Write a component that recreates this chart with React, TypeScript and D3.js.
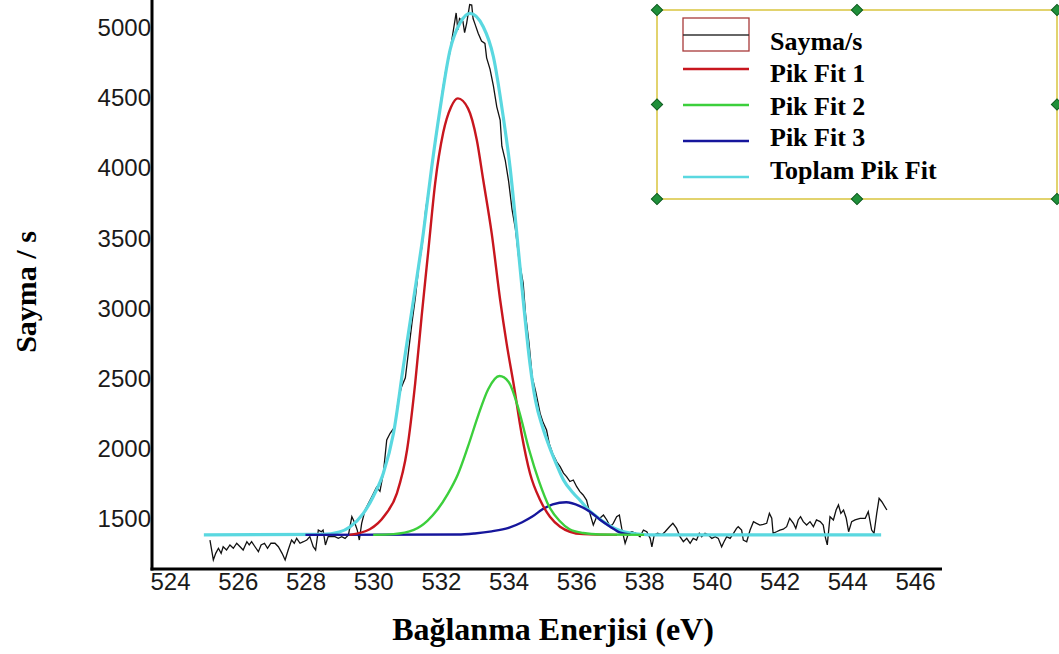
import React, { useEffect, useRef } from "react";
import * as d3 from "d3";

// ---------- data ----------
const xTicks = [524, 526, 528, 530, 532, 534, 536, 538, 540, 542, 544, 546];
const yTicks = [1500, 2000, 2500, 3000, 3500, 4000, 4500, 5000];

const rawEnergy = [
  525.18, 525.28, 525.35, 525.43, 525.51, 525.57, 525.67, 525.77, 525.87, 525.97,
  526.07, 526.16, 526.27, 526.34, 526.41, 526.51, 526.61, 526.69, 526.79, 526.88,
  526.98, 527.1, 527.2, 527.31, 527.4, 527.49, 527.59, 527.67, 527.74, 527.84,
  527.94, 528.04, 528.13, 528.23, 528.3, 528.38, 528.47, 528.52, 528.59, 528.67,
  528.77, 528.87, 528.97, 529.07, 529.17, 529.27, 529.37, 529.46, 529.53, 529.59,
  529.66, 529.76, 529.86, 529.96, 530.1, 530.2, 530.3, 530.4, 530.5, 530.64,
  530.74, 530.84, 530.95, 531.05, 531.15, 531.25, 531.35, 531.45, 531.55, 531.65,
  531.75, 531.85, 531.95, 532.05, 532.15, 532.25, 532.35, 532.45, 532.5, 532.55,
  532.65, 532.7, 532.76, 532.85, 532.91, 532.95, 533.0, 533.1, 533.2, 533.3,
  533.35, 533.45, 533.55, 533.65, 533.75, 533.8, 533.9, 534.0, 534.1, 534.2,
  534.3, 534.43, 534.5, 534.6, 534.7, 534.8, 534.93, 535.02, 535.12, 535.2,
  535.3, 535.42, 535.52, 535.62, 535.71, 535.81, 535.91, 536.01, 536.1, 536.2,
  536.3, 536.4, 536.5, 536.6, 536.7, 536.8, 536.9, 537.0, 537.09, 537.19,
  537.27, 537.34, 537.44, 537.54, 537.64, 537.76, 537.88, 537.98, 538.08, 538.18,
  538.23, 538.3, 538.4, 538.52, 538.62, 538.75, 538.85, 538.96, 539.06, 539.16,
  539.26, 539.36, 539.45, 539.55, 539.63, 539.7, 539.8, 539.9, 540.0, 540.1,
  540.19, 540.29, 540.36, 540.44, 540.54, 540.64, 540.73, 540.78, 540.88, 540.93,
  541.03, 541.13, 541.23, 541.32, 541.42, 541.52, 541.62, 541.7, 541.77, 541.81,
  541.91, 542.01, 542.11, 542.21, 542.3, 542.41, 542.48, 542.55, 542.62, 542.7,
  542.8, 542.9, 543.0, 543.09, 543.2, 543.29, 543.36, 543.41, 543.49, 543.59,
  543.67, 543.74, 543.81, 543.89, 543.97, 544.04, 544.13, 544.23, 544.38, 544.53,
  544.62, 544.72, 544.79, 544.87, 544.94, 545.02, 545.17,
];
const rawCounts = [
  1343, 1201, 1248, 1284, 1248, 1295, 1272, 1308, 1284, 1320,
  1295, 1272, 1331, 1308, 1331, 1295, 1260, 1308, 1320, 1284,
  1320, 1320, 1295, 1248, 1201, 1272, 1343, 1320, 1355, 1320,
  1331, 1343, 1367, 1295, 1272, 1414, 1402, 1414, 1308, 1367,
  1367, 1367, 1355, 1367, 1355, 1379, 1509, 1462, 1414, 1343,
  1462, 1557, 1605, 1652, 1720, 1690, 1819, 2056, 2104, 2151,
  2341, 2436, 2500, 2700, 2900, 3080, 3300, 3450, 3700, 3850,
  4050, 4200, 4380, 4550, 4700, 4800, 4950, 5100, 4980, 5060,
  5040, 4960, 5026, 5160, 5156, 5060, 5026, 4955, 4900, 4883,
  4780, 4700, 4580, 4431, 4337, 4150, 4050, 3900, 3700, 3560,
  3350, 3173, 2950, 2750, 2500, 2400, 2246, 2180, 2127, 2030,
  1960, 1900, 1866, 1820, 1795, 1760, 1771, 1723, 1690, 1664,
  1628, 1533, 1450, 1509, 1500, 1521, 1486, 1438, 1462, 1509,
  1521, 1426, 1320, 1391, 1402, 1390, 1367, 1414, 1402, 1355,
  1295, 1379, 1391, 1379, 1402, 1438, 1462, 1426, 1367, 1331,
  1355, 1320, 1355, 1343, 1391, 1367, 1391, 1379, 1355, 1367,
  1355, 1295, 1331, 1367, 1355, 1391, 1426, 1438, 1414, 1343,
  1331, 1414, 1474, 1462, 1450, 1455, 1462, 1533, 1498, 1391,
  1402, 1414, 1420, 1438, 1498, 1462, 1426, 1486, 1509, 1474,
  1450, 1474, 1438, 1486, 1474, 1450, 1355, 1308, 1509, 1486,
  1557, 1593, 1533, 1557, 1498, 1402, 1474, 1486, 1498, 1498,
  1545, 1414, 1391, 1533, 1640, 1616, 1557,
];

const pikFit1: [number, number][] = [
  [529.3, 1380], [529.9, 1420], [530.35, 1521], [530.7, 1676], [531.0, 1985],
  [531.24, 2460], [531.43, 2935], [531.63, 3410], [531.83, 3886], [532.07, 4249],
  [532.3, 4430], [532.5, 4491], [532.8, 4420], [533.06, 4194], [533.25, 3909],
  [533.5, 3529], [533.75, 3054], [533.94, 2745], [534.16, 2436], [534.38, 2104],
  [534.63, 1819], [534.93, 1628], [535.22, 1509], [535.52, 1438], [535.81, 1402],
  [536.2, 1385], [537.2, 1380],
];
const pikFit2: [number, number][] = [
  [530.0, 1380], [530.6, 1385], [531.2, 1415], [531.6, 1480], [531.9, 1560],
  [532.2, 1670], [532.5, 1810], [532.8, 2010], [533.1, 2230], [533.4, 2420],
  [533.73, 2512], [534.0, 2470], [534.3, 2270], [534.6, 1990], [534.9, 1760],
  [535.2, 1580], [535.5, 1480], [535.8, 1420], [536.2, 1393], [536.7, 1382],
  [538.0, 1380],
];
const pikFit3: [number, number][] = [
  [528.0, 1380], [532.5, 1382], [533.0, 1390], [533.5, 1405], [534.0, 1430],
  [534.4, 1470], [534.7, 1510], [535.0, 1562], [535.3, 1597], [535.7, 1612],
  [536.1, 1585], [536.4, 1545], [536.7, 1488], [537.0, 1438], [537.3, 1395],
  [537.6, 1381],
];
const toplamFit: [number, number][] = [
  [525.0, 1380], [528.5, 1383], [529.0, 1400], [529.32, 1438], [529.71, 1533],
  [530.0, 1652], [530.3, 1819], [530.6, 2104], [530.89, 2578], [531.19, 3054],
  [531.48, 3529], [531.73, 4004], [531.97, 4408], [532.27, 4836], [532.56, 5026],
  [532.86, 5097], [533.25, 5002], [533.55, 4788], [533.84, 4360], [534.04, 4004],
  [534.24, 3529], [534.43, 3054], [534.63, 2600], [534.8, 2330], [535.0, 2150],
  [535.2, 2010], [535.4, 1890], [535.62, 1771], [535.9, 1680], [536.1, 1628],
  [536.35, 1560], [536.6, 1509], [536.85, 1465], [537.1, 1429], [537.35, 1405],
  [537.6, 1393], [537.9, 1384], [538.2, 1380], [545.0, 1380],
];

const legendLabels = ["Sayma/s", "Pik Fit 1", "Pik Fit 2", "Pik Fit 3", "Toplam Pik Fit"];
const colors = {
  raw: "#111111",
  fit1: "#c8161e",
  fit2: "#3ccf3c",
  fit3: "#16169c",
  total: "#5ad8e0",
};

const W = 1059;
const H = 654;

export default function App() {
  const ref = useRef<SVGSVGElement | null>(null);

  useEffect(() => {
    const svg = d3.select(ref.current);
    svg.selectAll("*").remove();

    const x = d3.scaleLinear().domain([524, 546]).range([170, 915]);
    const y = d3.scaleLinear().domain([1500, 5000]).range([518, 27]);
    const axisLeftX = 152;
    const axisBottomY = 569;

    svg.append("rect").attr("width", W).attr("height", H).attr("fill", "#ffffff");

    // raw counts (under the fits)
    const rawPts: [number, number][] = rawEnergy.map((e, i) => [e, rawCounts[i]]);
    const lineRaw = d3
      .line<[number, number]>()
      .x((d) => x(d[0]))
      .y((d) => y(d[1]));
    svg
      .append("path")
      .attr("d", lineRaw(rawPts))
      .attr("fill", "none")
      .attr("stroke", colors.raw)
      .attr("stroke-width", 1.3);

    const smooth = d3
      .line<[number, number]>()
      .x((d) => x(d[0]))
      .y((d) => y(d[1]))
      .curve(d3.curveMonotoneX);

    const series: { data: [number, number][]; color: string; w: number }[] = [
      { data: toplamFit, color: colors.total, w: 3.2 },
      { data: pikFit3, color: colors.fit3, w: 2.4 },
      { data: pikFit1, color: colors.fit1, w: 2.4 },
      { data: pikFit2, color: colors.fit2, w: 2.4 },
    ];
    series.forEach((s) => {
      svg
        .append("path")
        .attr("d", smooth(s.data))
        .attr("fill", "none")
        .attr("stroke", s.color)
        .attr("stroke-width", s.w)
        .attr("stroke-linejoin", "round");
    });

    // axes
    const gx = svg.append("g").attr("transform", `translate(0,${axisBottomY})`);
    gx.call(
      d3
        .axisBottom(x)
        .tickValues(xTicks)
        .tickSize(0)
        .tickPadding(4)
        .tickFormat((d) => String(d))
    );
    gx.select(".domain").remove();
    gx.selectAll("text")
      .attr("y", 21)
      .attr("dy", 0)
      .attr("fill", "#1a1a1a")
      .style("font-family", "'Liberation Sans', Arial, sans-serif")
      .style("font-size", "24px");

    const gy = svg.append("g").attr("transform", `translate(${axisLeftX},0)`);
    gy.call(
      d3
        .axisLeft(y)
        .tickValues(yTicks)
        .tickSize(0)
        .tickPadding(1)
        .tickFormat((d) => String(d))
    );
    gy.select(".domain").remove();
    gy.selectAll("text")
      .attr("dy", "0.36em")
      .attr("fill", "#1a1a1a")
      .style("font-family", "'Liberation Sans', Arial, sans-serif")
      .style("font-size", "24px");

    svg
      .append("line")
      .attr("x1", axisLeftX)
      .attr("x2", axisLeftX)
      .attr("y1", 0)
      .attr("y2", axisBottomY + 1.5)
      .attr("stroke", "#000")
      .attr("stroke-width", 3);
    svg
      .append("line")
      .attr("x1", axisLeftX - 1.5)
      .attr("x2", 942)
      .attr("y1", axisBottomY)
      .attr("y2", axisBottomY)
      .attr("stroke", "#000")
      .attr("stroke-width", 3);

    // axis titles
    svg
      .append("text")
      .attr("x", 553)
      .attr("y", 640)
      .attr("text-anchor", "middle")
      .style("font-family", "'Liberation Serif', 'Times New Roman', serif")
      .style("font-weight", "bold")
      .style("font-size", "32px")
      .text("Bağlanma Enerjisi (eV)");
    svg
      .append("text")
      .attr("transform", "translate(36,292) rotate(-90)")
      .attr("text-anchor", "middle")
      .style("font-family", "'Liberation Serif', 'Times New Roman', serif")
      .style("font-weight", "bold")
      .style("font-size", "30px")
      .text("Sayma / s");

    // legend
    const lg = svg.append("g");
    const bx0 = 657, bx1 = 1057, by0 = 10, by1 = 199;
    lg.append("rect")
      .attr("x", bx0)
      .attr("y", by0)
      .attr("width", bx1 - bx0)
      .attr("height", by1 - by0)
      .attr("fill", "#ffffff")
      .attr("stroke", "#e2d36e")
      .attr("stroke-width", 2);

    const sx0 = 683, sx1 = 749;
    lg.append("rect")
      .attr("x", sx0)
      .attr("y", 18)
      .attr("width", sx1 - sx0)
      .attr("height", 33)
      .attr("fill", "none")
      .attr("stroke", "#a83a3a")
      .attr("stroke-width", 1.3);
    lg.append("line")
      .attr("x1", sx0)
      .attr("x2", sx1)
      .attr("y1", 35)
      .attr("y2", 35)
      .attr("stroke", "#333")
      .attr("stroke-width", 1.3);

    const symY = [69, 105, 141, 177];
    const symColors = [colors.fit1, colors.fit2, colors.fit3, colors.total];
    symY.forEach((yy, i) => {
      lg.append("line")
        .attr("x1", sx0)
        .attr("x2", sx1)
        .attr("y1", yy)
        .attr("y2", yy)
        .attr("stroke", symColors[i])
        .attr("stroke-width", 2.6);
    });

    const textY = [50, 81.5, 115, 146, 179];
    legendLabels.forEach((t, i) => {
      lg.append("text")
        .attr("x", 770)
        .attr("y", textY[i])
        .style("font-family", "'Liberation Serif', 'Times New Roman', serif")
        .style("font-weight", "bold")
        .style("font-size", "26px")
        .attr("fill", "#000")
        .text(t);
    });

    const handles: [number, number][] = [
      [bx0, by0], [(bx0 + bx1) / 2, by0], [bx1, by0],
      [bx0, (by0 + by1) / 2], [bx1, (by0 + by1) / 2],
      [bx0, by1], [(bx0 + bx1) / 2, by1], [bx1, by1],
    ];
    handles.forEach(([hx, hy]) => {
      lg.append("rect")
        .attr("x", -4)
        .attr("y", -4)
        .attr("width", 8)
        .attr("height", 8)
        .attr("transform", `translate(${hx},${hy}) rotate(45)`)
        .attr("fill", "#1f8f3a")
        .attr("stroke", "#0d5a1e")
        .attr("stroke-width", 1);
    });
  }, []);

  return (
    <svg
      ref={ref}
      width={W}
      height={H}
      style={{ position: "absolute", left: 0, top: 0, display: "block" }}
    />
  );
}
